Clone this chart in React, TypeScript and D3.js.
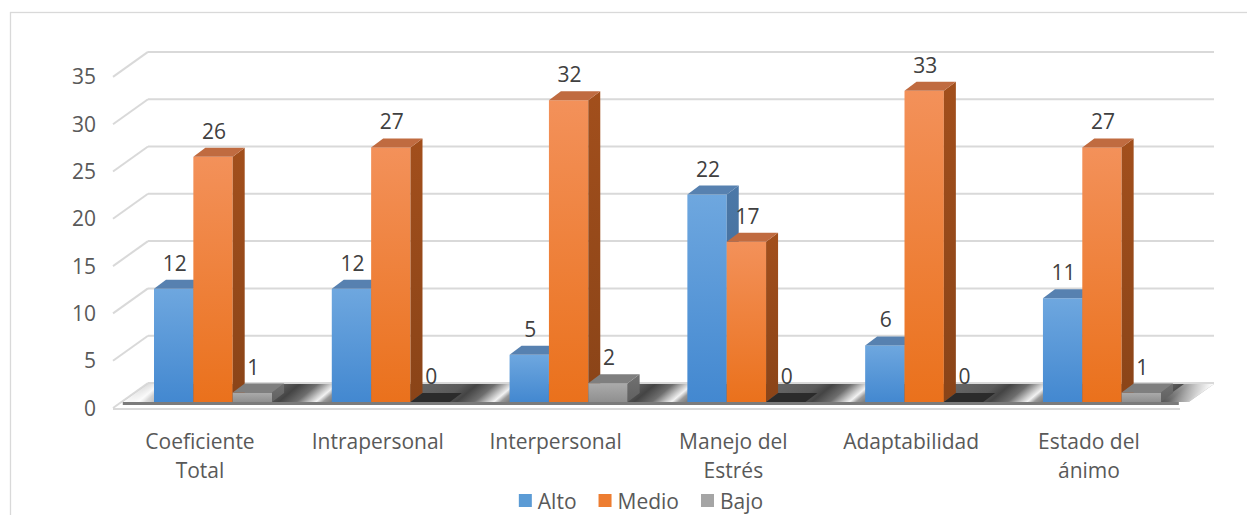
import React, { useEffect, useRef } from 'react';
import * as d3 from 'd3';

const categories = ['Coeficiente Total', 'Intrapersonal', 'Interpersonal', 'Manejo del Estrés', 'Adaptabilidad', 'Estado del ánimo'];
const seriesNames = ['Alto', 'Medio', 'Bajo'];
const alto = [12, 12, 5, 22, 6, 11];
const medio = [26, 27, 32, 17, 33, 27];
const bajo = [1, 0, 2, 0, 0, 1];
const yTicks = [0, 5, 10, 15, 20, 25, 30, 35];

const palette = [
  { light: '#6ea7df', dark: '#4388d0', top: '#5781b0', side: '#46709c', swatch: '#5b9bd5' },
  { light: '#f3915a', dark: '#ea711c', top: '#c06b40', side: '#974a1a', swatch: '#ed7d31' },
  { light: '#ababab', dark: '#8f8f8f', top: '#7f7f7f', side: '#696969', swatch: '#a5a5a5' },
];

const W = 1247;
const H = 515;
const FONT = "'Open Sans', sans-serif";

const wrap = (s: string, max: number) => {
  const words = s.split(' ');
  const lines: string[] = [];
  let cur = '';
  words.forEach(w => {
    const next = cur ? cur + ' ' + w : w;
    if (next.length > max && cur) {
      lines.push(cur);
      cur = w;
    } else cur = next;
  });
  if (cur) lines.push(cur);
  return lines;
};

const Chart3D: React.FC = () => {
  const ref = useRef<SVGSVGElement | null>(null);

  useEffect(() => {
    if (!ref.current) return;
    const svg = d3.select(ref.current);
    svg.selectAll('*').remove();

    const values = [alto, medio, bajo];

    // depth of the side wall and of the bars
    const wallDx = 35;
    const barDx = 12, barDy = -9;
    const floorY = 402;

    const x0 = d3.scaleBand<string>().domain(categories).range([154, 1161]).paddingInner(0.336).paddingOuter(0);
    const x1 = d3.scaleBand<string>().domain(seriesNames).range([0, x0.bandwidth()]).padding(0);

    const yBar = d3.scaleLinear().domain([0, 35]).range([floorY, floorY - 35 * 9.43]);
    const yFront = d3.scaleLinear().domain([0, 35]).range([408, 408 - 35 * 9.46]);
    const yBack = d3.scaleLinear().domain([0, 35]).range([383, 383 - 35 * 9.46]);

    const defs = svg.append('defs');
    palette.forEach((p, i) => {
      const g = defs.append('linearGradient').attr('id', `front${i}`).attr('x1', 0).attr('y1', 0).attr('x2', 0).attr('y2', 1);
      g.append('stop').attr('offset', '0%').attr('stop-color', p.light);
      g.append('stop').attr('offset', '100%').attr('stop-color', p.dark);
      const s = defs.append('linearGradient').attr('id', `side${i}`).attr('x1', 0).attr('y1', 0).attr('x2', 0).attr('y2', 1);
      s.append('stop').attr('offset', '0%').attr('stop-color', d3.color(p.side)!.brighter(0.2).formatHex());
      s.append('stop').attr('offset', '100%').attr('stop-color', d3.color(p.side)!.darker(0.25).formatHex());
    });

    // floor reflection streaks, repeated per category
    const step = x0.step();
    const fg = defs.append('linearGradient')
      .attr('id', 'floorGrad')
      .attr('gradientUnits', 'userSpaceOnUse')
      .attr('spreadMethod', 'repeat')
      .attr('x1', 154).attr('y1', 0).attr('x2', 154 + step).attr('y2', 0)
      .attr('gradientTransform', `translate(0,${floorY}) skewX(-50) translate(0,${-floorY})`);
    [
      [0, '#7a7a7a'], [0.62, '#5a5a5a'], [0.7, '#444444'], [0.8, '#6e6e6e'],
      [0.87, '#c4c4c4'], [0.91, '#f2f2f2'], [0.95, '#9a9a9a'], [1, '#7a7a7a'],
    ].forEach(([o, c]) => fg.append('stop').attr('offset', o as number).attr('stop-color', c as string));

    const fade = defs.append('linearGradient').attr('id', 'leftFade').attr('x1', 0).attr('y1', 0).attr('x2', 1).attr('y2', 0);
    fade.append('stop').attr('offset', '0%').attr('stop-color', '#ffffff');
    fade.append('stop').attr('offset', '100%').attr('stop-color', '#ffffff').attr('stop-opacity', 0);
    const rfade = defs.append('linearGradient').attr('id', 'rightFade').attr('x1', 0).attr('y1', 0).attr('x2', 1).attr('y2', 0);
    rfade.append('stop').attr('offset', '0%').attr('stop-color', '#ffffff').attr('stop-opacity', 0);
    rfade.append('stop').attr('offset', '100%').attr('stop-color', '#ffffff');

    // chart border
    svg.append('rect')
      .attr('x', 10.5).attr('y', 12.5).attr('width', W).attr('height', H)
      .attr('fill', '#fff').attr('stroke', '#d9d9d9').attr('stroke-width', 1.3);

    // back wall gridlines and side wall diagonals
    const grid = svg.append('g').attr('stroke', '#d9d9d9').attr('stroke-width', 2).attr('fill', 'none');
    yTicks.forEach(v => {
      grid.append('line').attr('x1', 148).attr('x2', 1214).attr('y1', yBack(v)).attr('y2', yBack(v));
      grid.append('line').attr('x1', 148 - wallDx).attr('y1', yFront(v)).attr('x2', 148).attr('y2', yBack(v));
    });

    // y axis labels
    svg.append('g')
      .selectAll('text')
      .data(yTicks)
      .enter().append('text')
      .attr('x', 96)
      .attr('y', d => yFront(d) + 7.5)
      .attr('text-anchor', 'end')
      .attr('font-family', FONT).attr('font-size', 21).attr('fill', '#595959')
      .text(d => d);

    // floor slab
    const fTop = 384;
    const fl = 148 - (floorY - fTop) * 1.4;
    const fr = 1214 - (floorY - fTop) * 1.4;
    svg.append('line').attr('x1', 113).attr('x2', 1180).attr('y1', 409).attr('y2', 409)
      .attr('stroke', '#d9d9d9').attr('stroke-width', 2);
    svg.append('path')
      .attr('d', `M${fl},${floorY}L${fr},${floorY}L1214,${fTop}L148,${fTop}Z`)
      .attr('fill', 'url(#floorGrad)');
    svg.append('path')
      .attr('d', `M${fl},${floorY}L${fl + 40},${floorY}L${148 + 40},${fTop}L148,${fTop}Z`)
      .attr('fill', 'url(#leftFade)');
    svg.append('path')
      .attr('d', `M${fr - 30},${floorY}L${fr},${floorY}L1214,${fTop}L${1214 - 30},${fTop}Z`)
      .attr('fill', 'url(#rightFade)');
    svg.append('rect').attr('x', fl).attr('y', floorY).attr('width', fr - fl - 10).attr('height', 3).attr('fill', '#7b7b7b');

    // bars
    const bars = svg.append('g');
    categories.forEach((c, ci) => {
      seriesNames.forEach((s, si) => {
        const v = values[si][ci];
        const x = x0(c)! + x1(s)!;
        const w = x1.bandwidth();
        const yt = yBar(v);
        const yb = yBar(0);
        const p = palette[si];
        if (v === 0) {
          bars.append('path')
            .attr('d', `M${x},${yb}L${x + w},${yb}L${x + w + barDx},${yb + barDy}L${x + barDx},${yb + barDy}Z`)
            .attr('fill', '#2b2b2b');
        } else {
          bars.append('rect').attr('x', x).attr('y', yt).attr('width', w).attr('height', yb - yt)
            .attr('fill', `url(#front${si})`);
          bars.append('path')
            .attr('d', `M${x + w},${yt}L${x + w + barDx},${yt + barDy}L${x + w + barDx},${yb + barDy}L${x + w},${yb}Z`)
            .attr('fill', `url(#side${si})`);
          bars.append('path')
            .attr('d', `M${x},${yt}L${x + w},${yt}L${x + w + barDx},${yt + barDy}L${x + barDx},${yt + barDy}Z`)
            .attr('fill', p.top);
        }
      });
    });

    // data labels
    const labels = svg.append('g').attr('font-family', FONT).attr('font-size', 21).attr('fill', '#404040').attr('text-anchor', 'middle');
    categories.forEach((c, ci) => {
      seriesNames.forEach((s, si) => {
        const v = values[si][ci];
        labels.append('text')
          .attr('x', x0(c)! + x1(s)! + x1.bandwidth() / 2 + 1)
          .attr('y', yBar(v) - 18)
          .text(v);
      });
    });

    // category labels
    const cat = svg.append('g').attr('font-family', FONT).attr('font-size', 21).attr('fill', '#595959').attr('text-anchor', 'middle');
    categories.forEach(c => {
      const t = cat.append('text').attr('x', x0(c)! + 46).attr('y', 449);
      wrap(c, 14).forEach((line, li) => {
        t.append('tspan').attr('x', x0(c)! + 46).attr('dy', li === 0 ? 0 : 29).text(line);
      });
    });

    // legend
    const legend = svg.append('g').attr('font-family', FONT).attr('font-size', 21).attr('fill', '#595959');
    const items = seriesNames.map((s, i) => {
      const g = legend.append('g');
      g.append('rect').attr('x', 0).attr('y', -7).attr('width', 13).attr('height', 13).attr('fill', palette[i].swatch);
      const t = g.append('text').attr('x', 19).attr('y', 7.5).text(s);
      const tw = (t.node() as SVGTextElement).getComputedTextLength();
      return { g, width: 19 + tw };
    });
    const gap = 22;
    const total = d3.sum(items, d => d.width) + gap * (items.length - 1);
    let lx = 641 - total / 2;
    items.forEach(it => {
      it.g.attr('transform', `translate(${lx},501)`);
      lx += it.width + gap;
    });
  }, []);

  return <svg ref={ref} width={W} height={H} style={{ position: 'absolute', left: 0, top: 0 }} />;
};

export default function App() {
  return <Chart3D />;
}
